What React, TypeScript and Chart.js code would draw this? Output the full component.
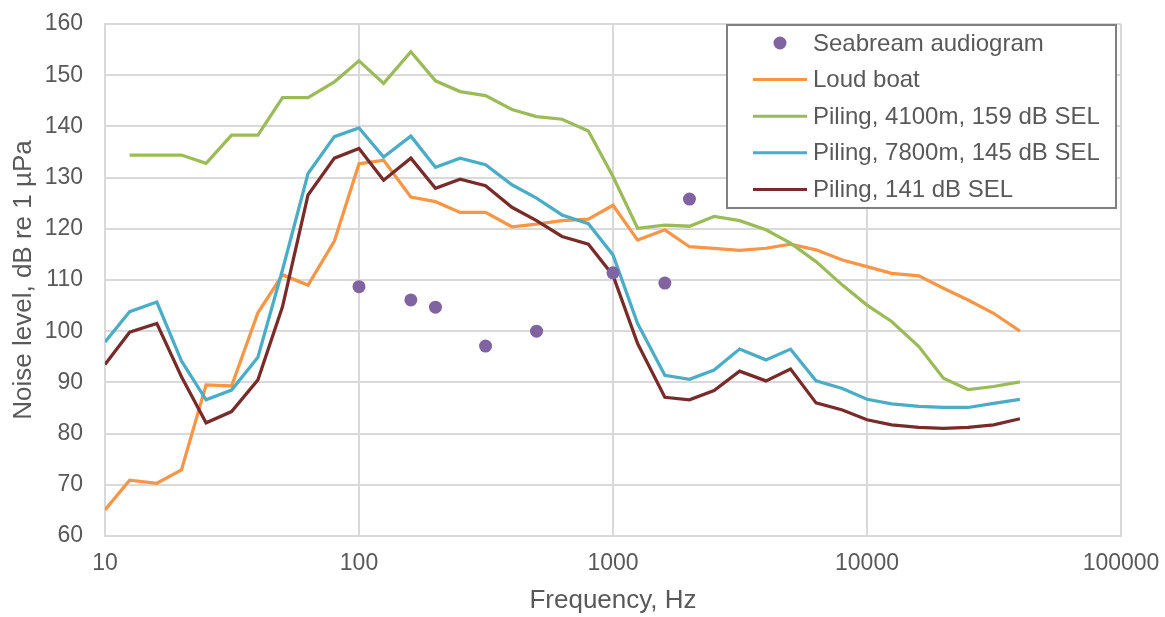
import React, { useEffect, useRef } from "react";
import { Chart, registerables } from "chart.js";

Chart.register(...registerables);

// One-third octave band centre frequencies (Hz)
const FREQUENCIES = [
  10, 12.5, 16, 20, 25, 31.5, 40, 50, 63, 80, 100, 125, 160, 200, 250, 315, 400,
  500, 630, 800, 1000, 1250, 1600, 2000, 2500, 3150, 4000, 5000, 6300, 8000,
  10000, 12500, 16000, 20000, 25000, 31500, 40000,
];

const LOUD_BOAT = [
  65.1, 70.9, 70.3, 72.9, 89.5, 89.3, 103.6, 111.0, 109.0, 117.6, 132.7, 133.4,
  126.2, 125.3, 123.2, 123.2, 120.4, 120.9, 121.6, 121.9, 124.6, 117.8, 119.8,
  116.5, 116.2, 115.8, 116.2, 117.0, 115.9, 113.9, 112.6, 111.3, 110.8, 108.4,
  106.1, 103.5, 100.0,
];

const PILING_4100M = [
  null, 134.4, 134.4, 134.4, 132.8, 138.3, 138.3, 145.6, 145.6, 148.7, 152.8,
  148.4, 154.6, 148.9, 146.8, 146.0, 143.3, 141.9, 141.4, 139.1, 130.2, 120.1,
  120.7, 120.5, 122.4, 121.6, 119.8, 117.2, 113.6, 109.0, 105.1, 101.9, 97.0,
  90.8, 88.6, 89.2, 90.1,
];

const PILING_7800M = [
  97.9, 103.8, 105.7, 94.2, 86.6, 88.5, 94.9, 112.0, 130.8, 138.0, 139.7, 134.0,
  138.1, 132.0, 133.8, 132.5, 128.6, 126.0, 122.7, 121.0, 114.9, 101.5, 91.4,
  90.6, 92.4, 96.5, 94.4, 96.5, 90.3, 88.8, 86.7, 85.8, 85.3, 85.1, 85.1, 85.9,
  86.7,
];

const PILING_141 = [
  93.5, 99.8, 101.5, 91.1, 82.1, 84.3, 90.5, 104.8, 126.6, 133.8, 135.7, 129.5,
  133.8, 127.9, 129.7, 128.4, 124.2, 121.6, 118.5, 117.0, 110.9, 97.6, 87.1,
  86.6, 88.4, 92.2, 90.3, 92.6, 86.0, 84.6, 82.7, 81.7, 81.2, 81.0, 81.2, 81.7,
  82.9,
];

const AUDIOGRAM_FREQ = [100, 160, 200, 315, 500, 1000, 1600, 2000];
const AUDIOGRAM_LEVEL = [108.7, 106.1, 104.7, 97.1, 100.0, 111.4, 109.4, 125.8];

const X_TICKS = [10, 100, 1000, 10000, 100000];
const Y_MIN = 60;
const Y_MAX = 160;
const Y_STEP = 10;

const SERIES_LABELS = [
  "Seabream audiogram",
  "Loud boat",
  "Piling, 4100m, 159 dB SEL",
  "Piling, 7800m, 145 dB SEL",
  "Piling, 141 dB SEL",
];

const COLORS = ["#8064A2", "#F79646", "#9BBB59", "#4BACC6", "#772C2A"];

const FONT = "'Liberation Sans', Arial, Helvetica, sans-serif";
const TEXT_COLOR = "#595959";
const GRID_COLOR = "#d9d9d9";

function toPoints(xs: number[], ys: (number | null)[]) {
  const pts: { x: number; y: number }[] = [];
  xs.forEach((x, i) => {
    const y = ys[i];
    if (y !== null && y !== undefined) pts.push({ x, y });
  });
  return pts;
}

const boxLegend = {
  id: "boxLegend",
  afterDraw(chart: any) {
    const { ctx, chartArea } = chart;
    const right = chartArea.right - 5;
    const width = 389;
    const left = right - width;
    const top = chartArea.top + 1;
    const rowH = 36.6;
    const height = 183;
    ctx.save();
    ctx.fillStyle = "#ffffff";
    ctx.fillRect(left, top, width, height);
    ctx.strokeStyle = "#808080";
    ctx.lineWidth = 2;
    ctx.strokeRect(left, top, width, height);
    ctx.font = `24px ${FONT}`;
    ctx.textBaseline = "middle";
    ctx.textAlign = "left";
    chart.data.datasets.forEach((ds: any, i: number) => {
      const cy = top + 18 + i * rowH;
      const lx0 = left + 26;
      const lx1 = left + 80;
      if (ds.showLine === false) {
        ctx.beginPath();
        ctx.fillStyle = ds.backgroundColor;
        ctx.arc((lx0 + lx1) / 2, cy, 6.5, 0, Math.PI * 2);
        ctx.fill();
      } else {
        ctx.beginPath();
        ctx.strokeStyle = ds.borderColor;
        ctx.lineWidth = 3;
        ctx.moveTo(lx0, cy);
        ctx.lineTo(lx1, cy);
        ctx.stroke();
      }
      ctx.fillStyle = TEXT_COLOR;
      ctx.fillText(ds.label, left + 86, cy + 1);
    });
    ctx.restore();
  },
};

export default function App() {
  const canvasRef = useRef<HTMLCanvasElement | null>(null);

  useEffect(() => {
    const canvas = canvasRef.current;
    if (!canvas) return;
    const lineDs = (idx: number, values: (number | null)[], order: number) => ({
      type: "line" as const,
      label: SERIES_LABELS[idx],
      data: toPoints(FREQUENCIES, values),
      borderColor: COLORS[idx],
      backgroundColor: COLORS[idx],
      borderWidth: 3.25,
      pointRadius: 0,
      pointHoverRadius: 0,
      tension: 0,
      fill: false,
      order,
    });

    const chart = new Chart(canvas, {
      type: "line",
      data: {
        datasets: [
          {
            type: "line",
            label: SERIES_LABELS[0],
            data: toPoints(AUDIOGRAM_FREQ, AUDIOGRAM_LEVEL),
            showLine: false,
            borderColor: COLORS[0],
            backgroundColor: COLORS[0],
            pointRadius: 6.5,
            pointBorderWidth: 0,
            order: 0,
          } as any,
          lineDs(1, LOUD_BOAT, 4),
          lineDs(2, PILING_4100M, 3),
          lineDs(3, PILING_7800M, 2),
          lineDs(4, PILING_141, 1),
        ],
      },
      options: {
        animation: false,
        responsive: false,
        maintainAspectRatio: false,
        layout: { padding: { left: 0, right: 44, top: 24, bottom: 0 } },
        plugins: {
          legend: { display: false },
          tooltip: { enabled: false },
        },
        scales: {
          x: {
            type: "logarithmic",
            min: 10,
            max: 100000,
            afterBuildTicks: (scale: any) => {
              scale.ticks = X_TICKS.map((v) => ({ value: v }));
            },
            afterFit: (scale: any) => {
              scale.height = 81;
              scale.paddingLeft = 0;
              scale.paddingRight = 0;
            },
            ticks: {
              autoSkip: false,
              maxRotation: 0,
              padding: 14,
              color: TEXT_COLOR,
              font: { family: FONT, size: 23 },
              callback: (value: any) => String(value),
            },
            grid: { color: GRID_COLOR, lineWidth: 2, drawTicks: false },
            border: { color: GRID_COLOR, width: 2 },
            title: {
              display: true,
              text: "Frequency, Hz",
              color: TEXT_COLOR,
              font: { family: FONT, size: 26, lineHeight: 1.2 },
              padding: { top: 0, bottom: 1 },
            },
          },
          y: {
            type: "linear",
            min: Y_MIN,
            max: Y_MAX,
            afterFit: (scale: any) => {
              scale.width = 105;
              scale.paddingTop = 0;
              scale.paddingBottom = 0;
            },
            ticks: {
              stepSize: Y_STEP,
              padding: 22,
              color: TEXT_COLOR,
              font: { family: FONT, size: 23 },
            },
            grid: { color: GRID_COLOR, lineWidth: 2, drawTicks: false },
            border: { color: GRID_COLOR, width: 2 },
            title: {
              display: true,
              text: "Noise level, dB re 1 µPa",
              color: TEXT_COLOR,
              font: { family: FONT, size: 26, lineHeight: 1.2 },
              padding: { top: 8, bottom: 0 },
            },
          },
        },
      },
      plugins: [boxLegend],
    });

    return () => chart.destroy();
  }, []);

  return (
    <div
      style={{
        position: "fixed",
        left: 0,
        top: 0,
        width: 1165,
        height: 617,
        background: "#ffffff",
      }}
    >
      <canvas ref={canvasRef} width={1165} height={617} />
    </div>
  );
}
